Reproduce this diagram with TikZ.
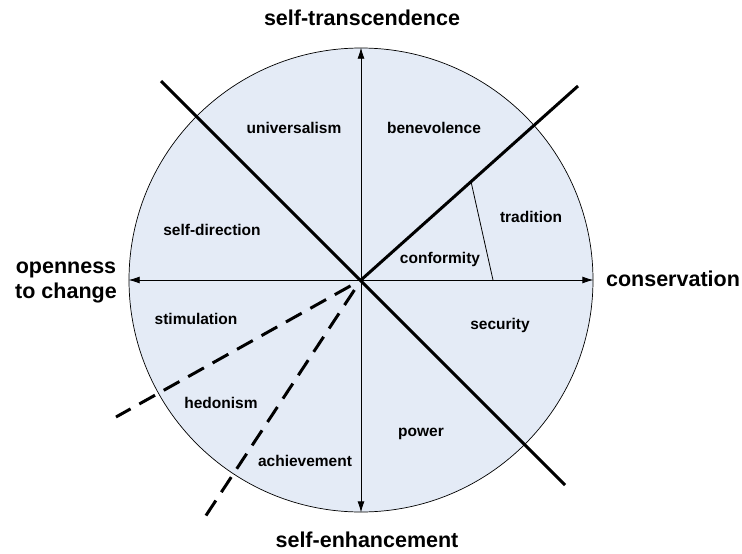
\documentclass[tikz,border=0pt]{standalone}
\usepackage{fontspec}
\setmainfont{Liberation Sans}
\usetikzlibrary{arrows.meta,calc}
\definecolor{wheelfill}{RGB}{228,235,246}

\begin{document}
\begin{tikzpicture}[x=1pt,y=-1pt,
        part/.style = {anchor=base, font=\fontsize{15.5}{18}\selectfont\bfseries},
        pole/.style = {anchor=base, align=center, font=\fontsize{21.5}{24.5}\selectfont\bfseries},
        axis/.style = {line width=0.8pt, {Latex[length=11pt,width=7pt]}-{Latex[length=11pt,width=7pt]}},
        cut/.style = {line width=3pt},
        dcut/.style = {line width=3pt, dash pattern=on 18pt off 10pt}]
        \useasboundingbox (0,0) rectangle (742,554);
        % wheel
        \coordinate (c) at (361,280);
        \node[circle, draw, fill=wheelfill, line width=0.7pt, minimum size=464pt, inner sep=0pt] (wheel) at (c) {};
        % main cuts
        \coordinate (tl) at (161,81);
        \coordinate (br) at (565,485);
        \coordinate (tr) at (578,86);
        \coordinate (hl) at (116,417);
        \coordinate (hs) at (205,517);
        \coordinate (sa) at ($(c)!0.507!(tr)$);
        \coordinate (sb) at (493,280);
        \draw[axis] (wheel.north) -- (wheel.south);
        \draw[axis] (wheel.west) -- (wheel.east);
        \draw[cut] (tl) -- (br);
        \draw[cut] (c) -- (tr);
        \draw[line width=0.8pt] (sa) -- (sb);
        \draw[dcut] ($(c)!12pt!(hl)$) -- (hl);
        \draw[dcut] ($(c)!12pt!(hs)$) -- (hs);
        % poles
        \node[pole] (up) at (362,25.5) {self-transcendence};
        \node[pole] (down) at (367,547) {self-enhancement};
        \node[pole] (right) at (673,286) {conservation};
        \node[pole] (left) at (66,298) {openness\\to change};
        % values
        \node[part] (univ) at (294,133) {universalism};
        \node[part] (bene) at (434,133) {benevolence};
        \node[part] (sdir) at (212,235) {self-direction};
        \node[part] (trad) at (531,222) {tradition};
        \node[part] (conf) at (440,263) {conformity};
        \node[part] (secu) at (500,329) {security};
        \node[part] (stim) at (196,324) {stimulation};
        \node[part] (hedo) at (221,408) {hedonism};
        \node[part] (achi) at (305,466) {achievement};
        \node[part] (powr) at (421,436) {power};
\end{tikzpicture}
\end{document}
